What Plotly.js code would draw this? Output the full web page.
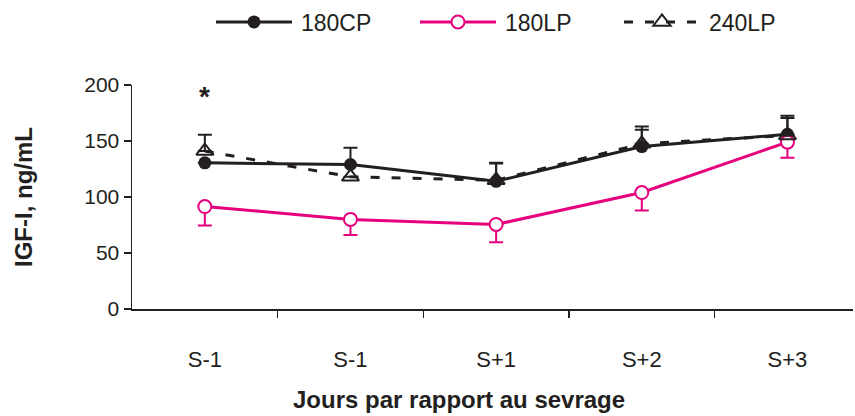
<!DOCTYPE html>
<html><head><meta charset="utf-8">
<script src="https://cdn.plot.ly/plotly-3.0.1.min.js"></script>
<style>html,body{margin:0;padding:0;background:#fff}#chart{width:855px;height:416px}</style>
</head><body><div id="chart"></div>
<script>
const categories = ["S-1", "S-1", "S+1", "S+2", "S+3"];
const cp180 = [130.5, 129, 114, 145, 156];
const cp180ErrUp = [0, 15, 16, 15, 14.6];
const lp180 = [91.5, 80, 75.5, 104, 149];
const lp180ErrDown = [17, 14, 16, 16, 14];
const lp240 = [141, 118, 115, 147.5, 155];
const lp240ErrUp = [14.5, 0, 15.5, 15.5, 17.6];
const seriesNames = ["180CP", "180LP", "240LP"];
const xTitle = "Jours par rapport au sevrage";
const yTitle = "IGF-I, ng/mL";

const xs = categories.map((_, i) => i);
const BLACK = "#231f20", MAG = "#e6007e";
const FONT = "Liberation Sans, Arial, sans-serif";

const traces = [
  {x: xs, y: cp180, name: seriesNames[0], type: "scatter", mode: "lines+markers",
   line: {color: BLACK, width: 3},
   marker: {symbol: "circle", size: 13, color: BLACK},
   error_y: {type: "data", symmetric: false, array: cp180ErrUp, arrayminus: cp180.map(() => 0), color: BLACK, thickness: 2, width: 7}},
  {x: xs, y: lp180, name: seriesNames[1], type: "scatter", mode: "lines+markers",
   line: {color: MAG, width: 3},
   marker: {symbol: "circle", size: 13, color: "#fff", line: {color: MAG, width: 2}},
   error_y: {type: "data", symmetric: false, array: lp180.map(() => 0), arrayminus: lp180ErrDown, color: MAG, thickness: 2, width: 7}},
  {x: xs, y: lp240, name: seriesNames[2], type: "scatter", mode: "lines+markers",
   line: {color: BLACK, width: 3, dash: "9px,12px"},
   marker: {symbol: "triangle-up-open", size: 15, color: BLACK, line: {color: BLACK, width: 2}},
   error_y: {type: "data", symmetric: false, array: lp240ErrUp, arrayminus: lp240.map(() => 0), color: BLACK, thickness: 2, width: 7}},
  {x: [0.5, 1.5, 2.5, 3.5], y: [0, 0, 0, 0], xaxis: "x2", mode: "none", showlegend: false, hoverinfo: "skip"}
];

const layout = {
  width: 855, height: 416,
  margin: {l: 132, r: 2, t: 84, b: 107},
  paper_bgcolor: "#fff", plot_bgcolor: "#fff",
  font: {family: FONT, size: 21, color: BLACK},
  showlegend: true,
  legend: {orientation: "h", x: (211 - 132) / 721, xanchor: "left", y: 1.2756, yanchor: "middle",
           font: {family: FONT, size: 23, color: BLACK}, itemwidth: 80, entrywidth: 109, entrywidthmode: "pixels",
           bgcolor: "rgba(0,0,0,0)"},
  xaxis: {range: [-0.5, 4.45], tickvals: xs, ticktext: categories, ticks: "", showgrid: false, zeroline: false,
          showline: true, linecolor: BLACK, linewidth: 1.5, ticklabelstandoff: 30,
          tickfont: {family: FONT, size: 22, color: BLACK}},
  xaxis2: {overlaying: "x", matches: "x", range: [-0.5, 4.45], tickvals: [0.5, 1.5, 2.5, 3.5],
           showticklabels: false, ticks: "outside", ticklen: 8, tickwidth: 1.5, tickcolor: BLACK,
           showgrid: false, zeroline: false, showline: false, anchor: "y", side: "bottom"},
  yaxis: {range: [0, 200], tickvals: [0, 50, 100, 150, 200], ticks: "outside", ticklen: 7, tickwidth: 1.5,
          tickcolor: BLACK, showgrid: false, zeroline: false, showline: true, linecolor: BLACK, linewidth: 1.5,
          tickfont: {family: FONT, size: 21, color: BLACK},
          title: {text: yTitle, font: {family: FONT, size: 24, color: BLACK, weight: "bold"}, standoff: 45}},
  annotations: [
    {text: "*", x: 0, y: 190, xref: "x", yref: "y", showarrow: false, font: {family: FONT, size: 28, color: BLACK, weight: "bold"}},
    {text: "<b>" + xTitle + "</b>", xref: "paper", yref: "paper", x: (459 - 132) / 721, y: (309 - 400) / 225, xanchor: "center", yanchor: "middle",
     showarrow: false, font: {family: FONT, size: 24, color: BLACK}}
  ]
};

Plotly.newPlot("chart", traces, layout, {staticPlot: true, displayModeBar: false}).then(gd => {
  // lengthen the legend sample lines to match the reference key
  gd.querySelectorAll(".legend .traces").forEach(t => {
    t.querySelectorAll(".legendlines path, .legendfill path").forEach(p => p.setAttribute("d", "M5,0h76"));
    t.querySelectorAll(".legendpoints path.scatterpts").forEach(p => p.setAttribute("transform", "translate(43,0)"));
  });
});
</script></body></html>
